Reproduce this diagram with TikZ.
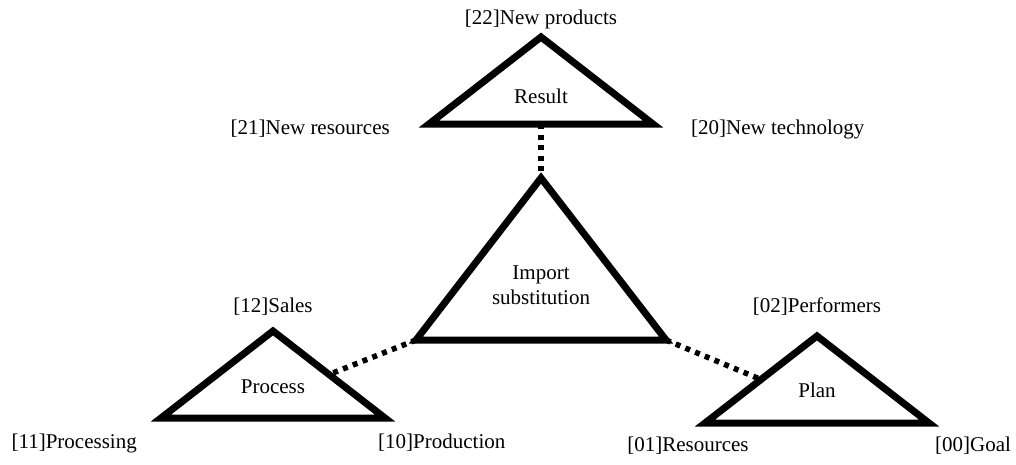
\documentclass[tikz,border=0pt]{standalone}
\usepackage{fontspec}
\setmainfont{Liberation Serif}
\usetikzlibrary{math,calc}
\tikzset{
	tri/.style={line width=7pt,line join=miter},
	link/.style={line width=5.5pt,dash pattern=on 5pt off 5.5pt},
	lbl/.style={inner sep=0pt,anchor=base}
}
\begin{document}
\begin{tikzpicture}[x=1pt,y=-1pt,font=\fontsize{21}{25}\selectfont]
\useasboundingbox (0,0) rectangle (1016,464);
\tikzmath{
	\triw = 112;\trih = 87;
	\rx = 541;\ry = 37;
	\px = 273;\py = 331;
	\nx = 817;\ny = 336;
	\ix = 541;\iy = 178;\iw = 125;\ih = 162;
	% result
	{\coordinate (r) at (\rx,\ry);};
	{\coordinate (rl) at (\rx-\triw,\ry+\trih);};
	{\coordinate (rr) at (\rx+\triw,\ry+\trih);};
	% import substitution
	{\coordinate (i) at (\ix,\iy);};
	{\coordinate (il) at (\ix-\iw,\iy+\ih);};
	{\coordinate (ir) at (\ix+\iw,\iy+\ih);};
	% process
	{\coordinate (p) at (\px,\py);};
	{\coordinate (pl) at (\px-\triw,\py+\trih);};
	{\coordinate (pr) at (\px+\triw,\py+\trih);};
	% plan
	{\coordinate (n) at (\nx,\ny);};
	{\coordinate (nl) at (\nx-\triw,\ny+\trih);};
	{\coordinate (nr) at (\nx+\triw,\ny+\trih);};
	%
	{\coordinate (rm) at ($(rl)!0.5!(rr)$);};
	{\coordinate (pm) at ($(p)!0.5!(pr)$);};
	{\coordinate (nm) at ($(n)!0.5!(nl)$);};
	{\draw[link] (rm) -- (i);};
	{\draw[link] (il) -- (pm);};
	{\draw[link] (ir) -- (nm);};
	{\draw[tri] plot[] coordinates {(r) (rr) (rl)} -- cycle;};
	{\draw[tri] plot[] coordinates {(i) (ir) (il)} -- cycle;};
	{\draw[tri] plot[] coordinates {(p) (pr) (pl)} -- cycle;};
	{\draw[tri] plot[] coordinates {(n) (nr) (nl)} -- cycle;};
	%
	{\path (r) ++(0,-13) node[lbl] (t22) {[22]New products};};
	{\path (r) ++(0,66) node[lbl] (res) {Result};};
	{\path (rl) ++(-39,10) node[lbl,anchor=base east] (t21) {[21]New resources};};
	{\path (rr) ++(38,10) node[lbl,anchor=base west] (t20) {[20]New technology};};
	{\path (i) ++(0,107) node[align=center,inner sep=0pt] (imp) {Import\\substitution};};
	{\path (p) ++(0,-19) node[lbl] (t12) {[12]Sales};};
	{\path (p) ++(0,62) node[lbl] (proc) {Process};};
	{\path (pl) ++(-24,30) node[lbl,anchor=base east] (t11) {[11]Processing};};
	{\path (pr) ++(-7,30) node[lbl,anchor=base west] (t10) {[10]Production};};
	{\path (n) ++(0,-24) node[lbl] (t02) {[02]Performers};};
	{\path (n) ++(0,61) node[lbl] (plan) {Plan};};
	{\path (nl) ++(-17,28) node[lbl] (t01) {[01]Resources};};
	{\path (nr) ++(6,28) node[lbl,anchor=base west] (t00) {[00]Goal};};
};
\end{tikzpicture}
\end{document}
